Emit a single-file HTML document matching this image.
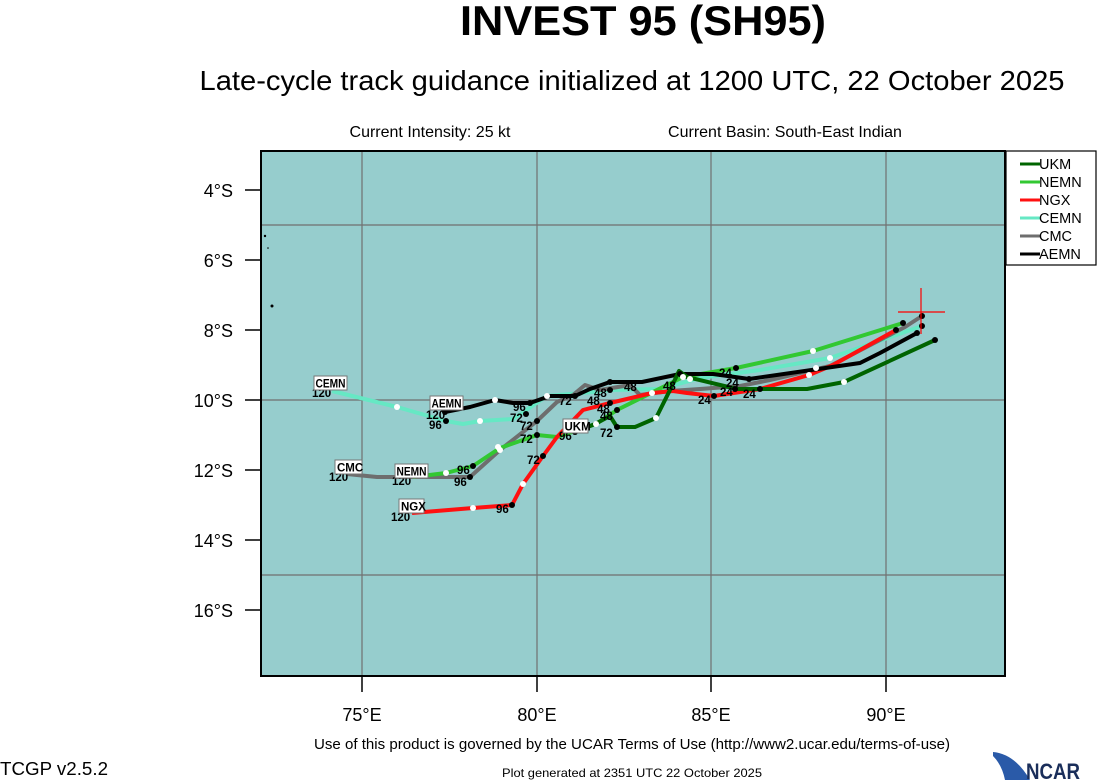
<!DOCTYPE html>
<html><head><meta charset="utf-8"><style>
body{margin:0;background:#fff;}
svg{display:block;font-family:"Liberation Sans",Arial,sans-serif;}
</style></head><body>
<svg width="1097" height="780" viewBox="0 0 1097 780" xmlns="http://www.w3.org/2000/svg">
<text x="643" y="35" font-size="42" font-weight="bold" text-anchor="middle" textLength="366" lengthAdjust="spacingAndGlyphs">INVEST 95 (SH95)</text>
<text x="632" y="90" font-size="28" text-anchor="middle" textLength="865" lengthAdjust="spacingAndGlyphs">Late-cycle track guidance initialized at 1200 UTC, 22 October 2025</text>
<text x="430" y="137" font-size="16" text-anchor="middle">Current Intensity: 25 kt</text>
<text x="785" y="137" font-size="16" text-anchor="middle">Current Basin: South-East Indian</text>
<rect x="261" y="151" width="744" height="525" fill="#96cdcd"/>
<g stroke="#707070" stroke-width="1.2">
<line x1="362" y1="151" x2="362" y2="676"/><line x1="537" y1="151" x2="537" y2="676"/>
<line x1="711" y1="151" x2="711" y2="676"/><line x1="886" y1="151" x2="886" y2="676"/>
<line x1="261" y1="225" x2="1005" y2="225"/><line x1="261" y1="400" x2="1005" y2="400"/>
<line x1="261" y1="575" x2="1005" y2="575"/>
</g>
<circle cx="265" cy="236" r="1.2" fill="#000"/><circle cx="268" cy="248" r="0.8" fill="#000"/><circle cx="272" cy="306" r="1.5" fill="#000"/>
<rect x="261" y="151" width="744" height="525" fill="none" stroke="#000" stroke-width="2"/>
<g stroke="#000" stroke-width="1.5">
<line x1="245" y1="190" x2="261" y2="190"/><line x1="245" y1="260" x2="261" y2="260"/>
<line x1="245" y1="330" x2="261" y2="330"/><line x1="245" y1="400" x2="261" y2="400"/>
<line x1="245" y1="470" x2="261" y2="470"/><line x1="245" y1="540" x2="261" y2="540"/>
<line x1="245" y1="610" x2="261" y2="610"/>
<line x1="362" y1="676" x2="362" y2="692"/><line x1="537" y1="676" x2="537" y2="692"/>
<line x1="711" y1="676" x2="711" y2="692"/><line x1="886" y1="676" x2="886" y2="692"/>
</g>
<g font-size="18" text-anchor="end">
<text x="233" y="197">4°S</text><text x="233" y="267">6°S</text><text x="233" y="337">8°S</text>
<text x="233" y="407">10°S</text><text x="233" y="477">12°S</text><text x="233" y="547">14°S</text><text x="233" y="617">16°S</text>
</g>
<g font-size="18" text-anchor="middle">
<text x="362" y="721">75°E</text><text x="537" y="721">80°E</text><text x="711" y="721">85°E</text><text x="886" y="721">90°E</text>
</g>
<g fill="none" stroke-width="4" stroke-linejoin="round">
<polyline stroke="#66e8c4" points="922,326 830,358 760,370 700,378 660,389 610,390 593,392 547,396 513,419 480,421 463,424 446,421 397,407 332,391"/>
<polyline stroke="#6e6e6e" points="922,316 905,327 830,366 770,380 740,386 700,389 670,391 640,395 630,385 600,390 585,385 573,395 557,402 537,421 500,450 470,477 453,477 377,477 347,474"/>
<polyline stroke="#32c832" points="903,323 813,351 736,368 683,377 617,410 596,424 557,437 537,435 500,448 473,466 446,473 413,477"/>
<polyline stroke="#ff1010" points="896,330 833,365 809,375 760,389 714,396 687,393 673,391 652,393 610,403 583,410 557,437 543,456 523,484 512,505 473,508 412,513"/>
<polyline stroke="#000" points="917,333 880,353 860,363 749,379 735,377 713,374 680,374 642,382 610,382 590,389 575,396 550,396 530,403 513,403 495,400 470,407 445,412"/>
<polyline stroke="#006400" points="935,340 844,382 807,389 760,389 737,389 687,377 679,371 670,390 656,418 635,427 617,427 610,416 595,424 575,432"/>
</g>
<g fill="#000">
<circle cx="922" cy="316" r="3"/><circle cx="922" cy="326" r="3"/><circle cx="917" cy="333" r="3"/><circle cx="935" cy="340" r="3"/>
<circle cx="903" cy="323" r="3"/><circle cx="896" cy="330" r="3"/><circle cx="736" cy="368" r="3"/><circle cx="749" cy="379" r="3"/>
<circle cx="760" cy="389" r="3"/><circle cx="714" cy="396" r="3"/><circle cx="735" cy="389" r="3"/><circle cx="680" cy="374" r="3"/>
<circle cx="610" cy="382" r="3"/><circle cx="610" cy="390" r="3"/><circle cx="610" cy="403" r="3"/><circle cx="617" cy="410" r="3"/><circle cx="617" cy="427" r="3"/>
<circle cx="575" cy="396" r="3"/><circle cx="530" cy="403" r="3"/><circle cx="526" cy="414" r="3"/><circle cx="537" cy="421" r="3"/><circle cx="537" cy="435" r="3"/><circle cx="543" cy="456" r="3"/>
<circle cx="575" cy="432" r="3"/><circle cx="512" cy="505" r="3"/><circle cx="473" cy="466" r="3"/><circle cx="470" cy="477" r="3"/>
<circle cx="446" cy="421" r="3"/><circle cx="445" cy="412" r="3"/>
</g>
<g fill="#fff">
<circle cx="813" cy="351" r="3"/><circle cx="830" cy="358" r="3"/><circle cx="816" cy="368" r="3"/><circle cx="809" cy="375" r="3"/><circle cx="844" cy="382" r="3"/>
<circle cx="683" cy="377" r="3"/><circle cx="690" cy="379" r="3"/><circle cx="652" cy="393" r="3"/><circle cx="656" cy="418" r="3"/><circle cx="596" cy="424" r="3"/>
<circle cx="547" cy="396" r="3"/><circle cx="500" cy="450" r="3"/><circle cx="498" cy="447" r="3"/><circle cx="523" cy="484" r="3"/><circle cx="473" cy="508" r="3"/>
<circle cx="446" cy="473" r="3"/><circle cx="480" cy="421" r="3"/><circle cx="397" cy="407" r="3"/><circle cx="495" cy="400" r="3"/>
</g>
<g font-size="11.5" font-weight="bold">
<text x="719" y="377">24</text><text x="726" y="387">24</text><text x="720" y="396">24</text><text x="743" y="398">24</text><text x="698" y="404">24</text>
<text x="624" y="391">48</text><text x="663" y="390">48</text><text x="594" y="397">48</text><text x="587" y="405">48</text><text x="597" y="413">48</text><text x="600" y="420">48</text>
<text x="559" y="405">72</text><text x="510" y="422">72</text><text x="520" y="430">72</text><text x="520" y="443">72</text><text x="527" y="464">72</text><text x="600" y="437">72</text>
<text x="513" y="411">96</text><text x="429" y="429">96</text><text x="457" y="474">96</text><text x="454" y="486">96</text><text x="559" y="440">96</text><text x="496" y="513">96</text>
<text x="312" y="397">120</text><text x="426" y="419">120</text><text x="329" y="481">120</text><text x="392" y="485">120</text><text x="391" y="521">120</text>
</g>
<g font-size="11.5" font-weight="bold">
<rect x="314" y="376" width="33" height="14" fill="#fff" stroke="#777"/><text x="315.5" y="387.5" textLength="30" lengthAdjust="spacingAndGlyphs">CEMN</text>
<rect x="430" y="396" width="33" height="14" fill="#fff" stroke="#777"/><text x="431.5" y="407.5" textLength="30" lengthAdjust="spacingAndGlyphs">AEMN</text>
<rect x="335" y="460" width="27" height="14" fill="#fff" stroke="#777"/><text x="337" y="471.5">CMC</text>
<rect x="395" y="464" width="33" height="14" fill="#fff" stroke="#777"/><text x="396.5" y="475.5" textLength="30" lengthAdjust="spacingAndGlyphs">NEMN</text>
<rect x="399" y="499" width="25" height="14" fill="#fff" stroke="#777"/><text x="401" y="510.5">NGX</text>
<rect x="563" y="419" width="25" height="14" fill="#fff" stroke="#777"/><text x="564.5" y="430.5">UKM</text>
</g>
<g stroke="#ff0000" stroke-width="1.2"><line x1="898" y1="312" x2="945" y2="312"/><line x1="921" y1="288" x2="921" y2="334"/></g>
<rect x="1006" y="151" width="90" height="114" fill="#fff" stroke="#000" stroke-width="1.2"/>
<g stroke-width="3">
<line x1="1020" y1="164" x2="1040" y2="164" stroke="#006400"/><line x1="1020" y1="182" x2="1040" y2="182" stroke="#32c832"/>
<line x1="1020" y1="200" x2="1040" y2="200" stroke="#ff1010"/><line x1="1020" y1="218" x2="1040" y2="218" stroke="#66e8c4"/>
<line x1="1020" y1="236" x2="1040" y2="236" stroke="#6e6e6e"/><line x1="1020" y1="254" x2="1040" y2="254" stroke="#000"/>
</g>
<g font-size="14.5">
<text x="1039" y="169">UKM</text><text x="1039" y="187">NEMN</text><text x="1039" y="205">NGX</text>
<text x="1039" y="223">CEMN</text><text x="1039" y="241">CMC</text><text x="1039" y="259">AEMN</text>
</g>
<text x="632" y="749" font-size="14.5" text-anchor="middle" textLength="636" lengthAdjust="spacingAndGlyphs">Use of this product is governed by the UCAR Terms of Use (http://www2.ucar.edu/terms-of-use)</text>
<text x="0" y="775" font-size="18" textLength="108" lengthAdjust="spacingAndGlyphs">TCGP v2.5.2</text>
<text x="632" y="777" font-size="12" text-anchor="middle" textLength="260" lengthAdjust="spacingAndGlyphs">Plot generated at 2351 UTC   22 October 2025</text>
<path d="M993,752 Q1015,754 1030,780 L1005,780 Q1002,765 993,756 Z" fill="#2a5aa8"/>
<text x="1026" y="779" font-size="22" font-weight="bold" fill="#1a2e5a" textLength="54" lengthAdjust="spacingAndGlyphs">NCAR</text>
</svg>
</body></html>
